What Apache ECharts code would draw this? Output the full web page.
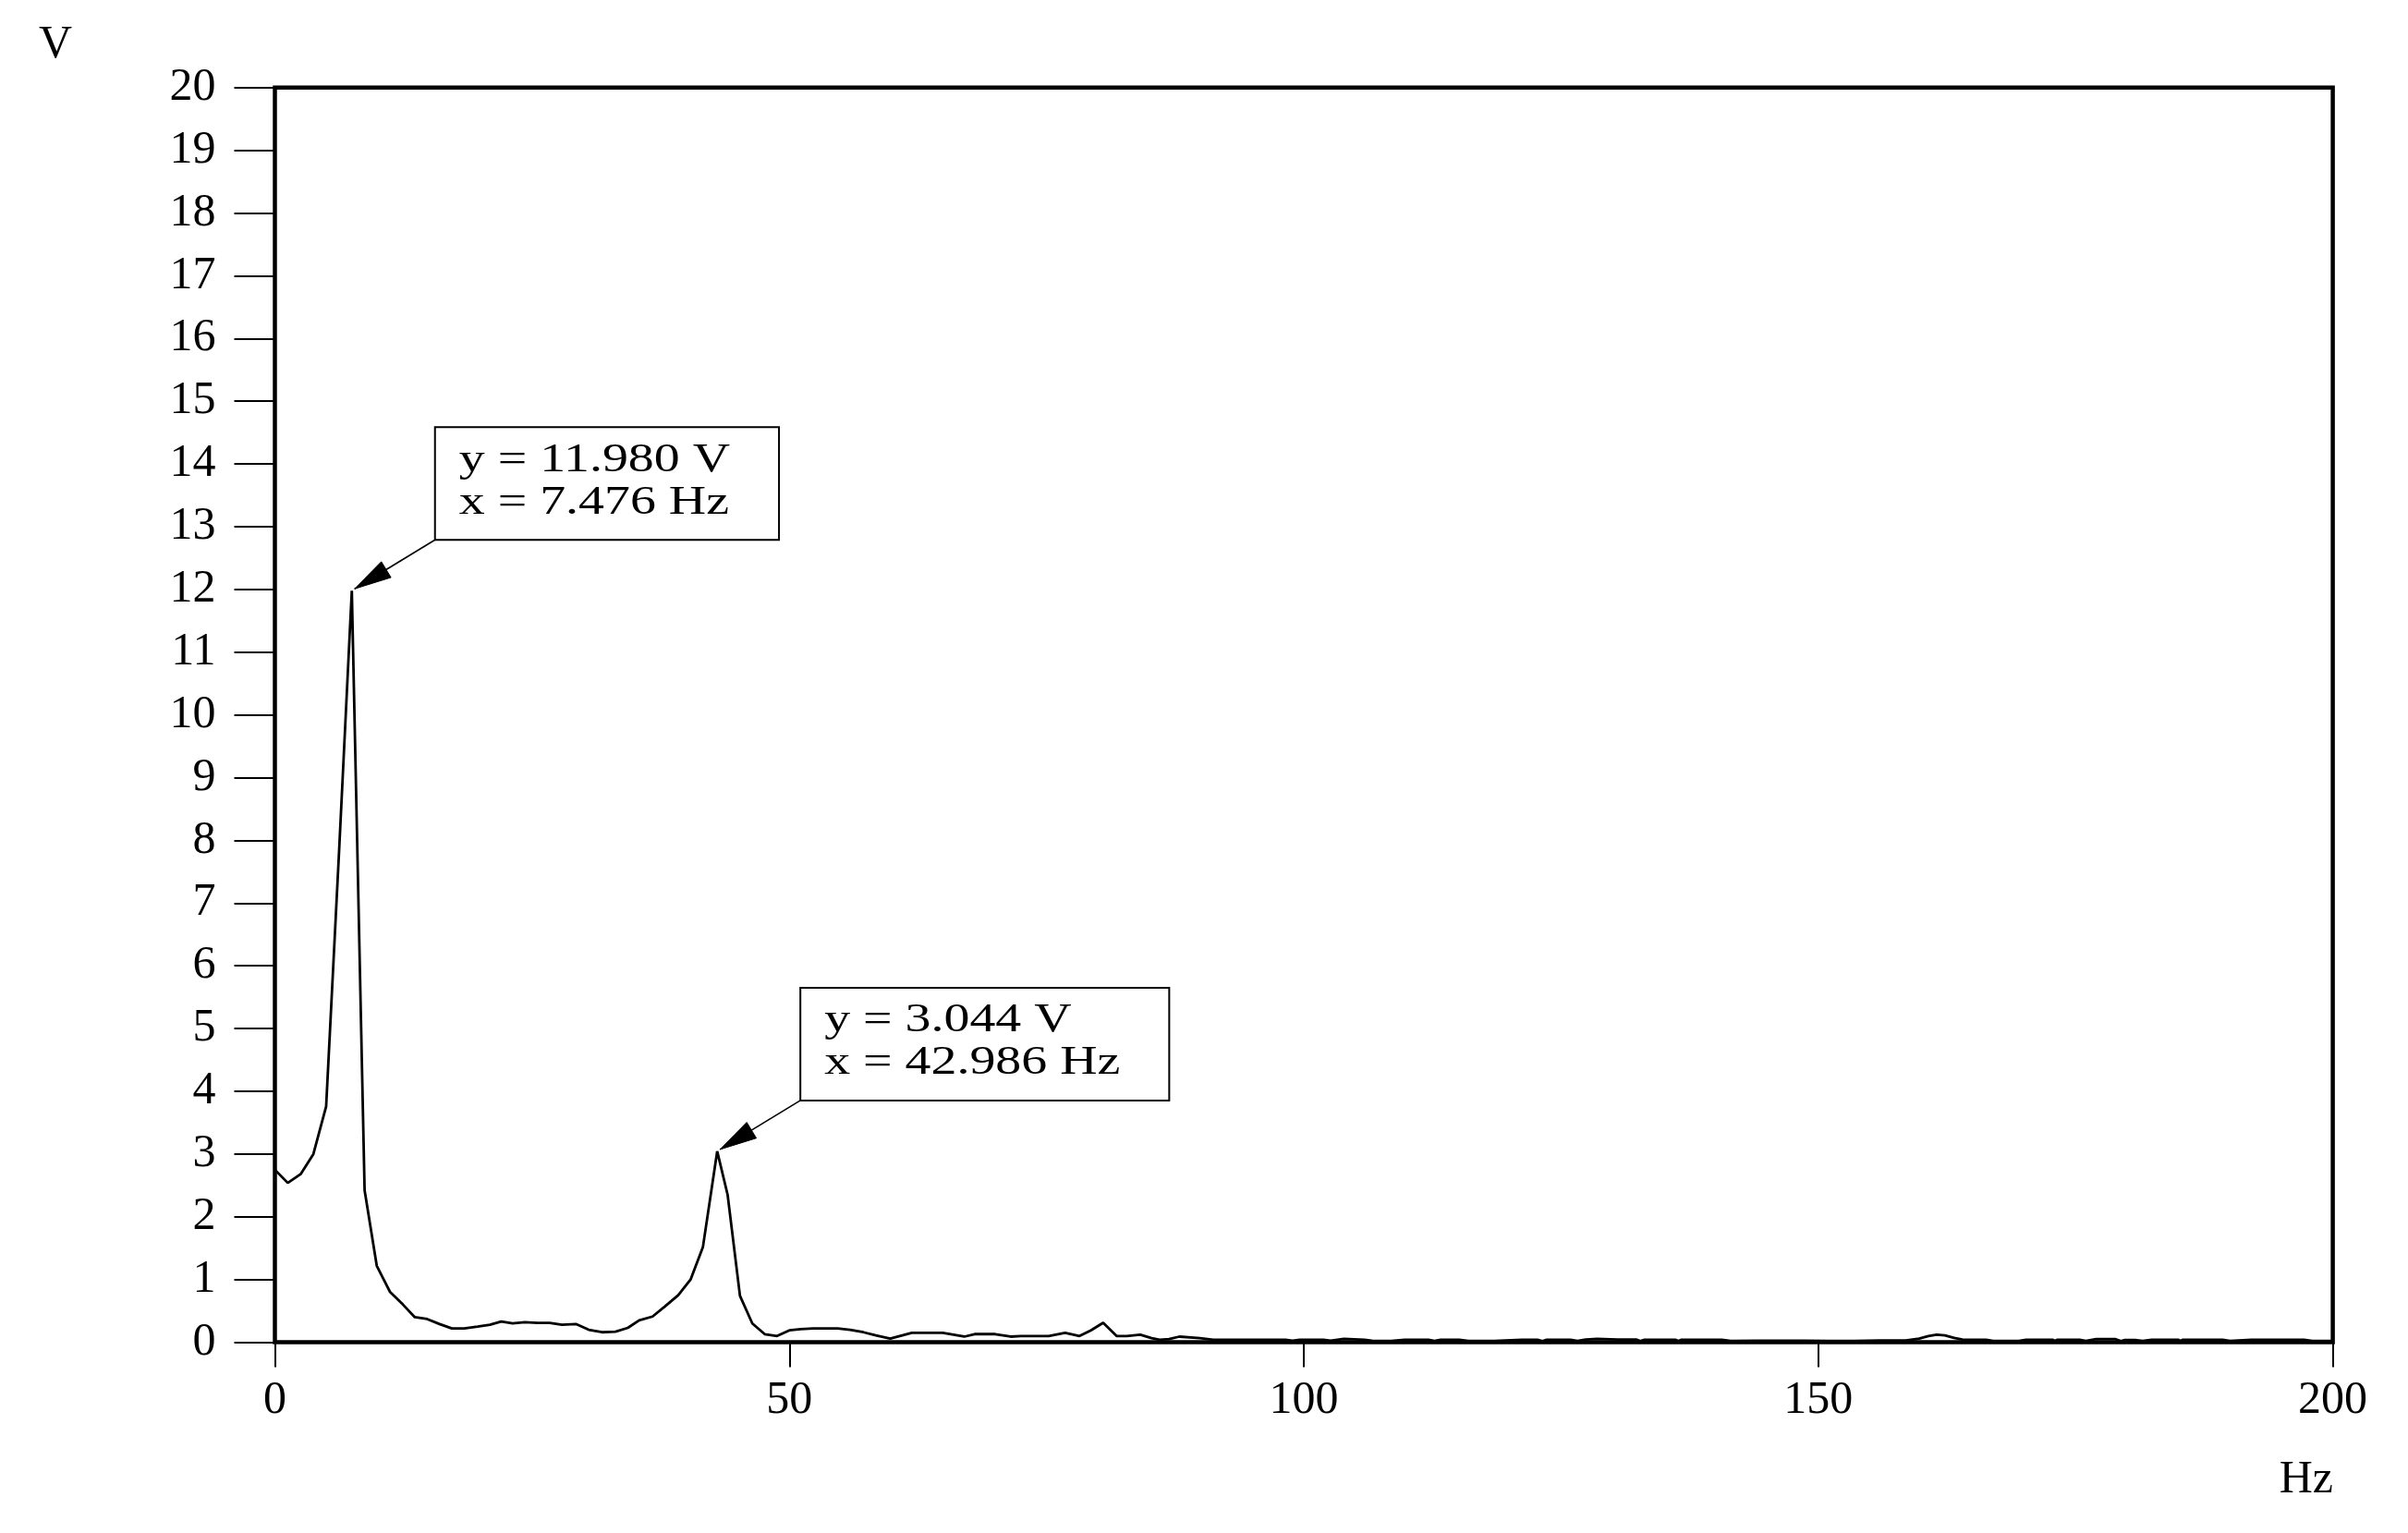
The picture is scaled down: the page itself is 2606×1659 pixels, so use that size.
<!DOCTYPE html>
<html>
<head>
<meta charset="utf-8">
<script src="https://cdn.jsdelivr.net/npm/echarts@6/dist/echarts.min.js"></script>
<style>
  html, body { margin: 0; padding: 0; background: #fff; }
  #main { width: 2606px; height: 1659px; }
</style>
</head>
<body>
<div id="main"></div>
<script>
// ---- data ----
const freqHz = [
  0, 1.25, 2.5, 3.74, 4.98, 6.23, 7.476, 8.72, 9.9, 11.2, 12.45, 13.6, 14.8, 16.0, 17.2, 18.4, 19.7, 20.9,
  22.0, 23.1, 24.3, 25.5, 26.7, 27.9, 29.3, 30.5, 31.8, 33.1, 34.3, 35.4, 36.7, 37.9, 39.2, 40.4, 41.6,
  42.986, 44.0, 45.2, 46.4, 47.6, 48.8, 50.0, 51.1, 52.3, 53.5, 54.7, 55.9, 57.2, 58.4, 59.8, 61.9, 63.3,
  64.9, 67.0, 68.0, 70.0, 71.5, 72.5, 73.8, 75.2, 76.8, 78.2, 79.3, 80.5, 81.8, 82.8, 84.1, 85.2, 86.0,
  86.9, 87.9, 89.9, 91.2, 93.7, 96.2, 98.2, 98.9, 99.6, 101.9, 102.6, 103.9, 105.9, 106.6, 108.5, 109.8,
  112.1, 112.7, 113.3, 115.1, 116.0, 118.5, 121.2, 122.7, 123.2, 123.6, 125.9, 126.6, 127.4, 128.5, 130.5,
  132.3, 132.7, 133.1, 136.1, 136.4, 136.7, 140.6, 141.5, 144.0, 148.7, 151.0, 153.5, 156.0, 158.5, 159.8,
  160.7, 161.5, 162.3, 163.2, 164.0, 166.3, 167.0, 169.5, 170.2, 172.8, 173.0, 173.2, 175.4, 176.0, 177.0,
  178.9, 179.4, 179.8, 180.8, 181.5, 182.4, 185.0, 185.2, 185.4, 189.3, 190.0, 192.1, 197.2, 198.0, 200.0
];
const voltV = [
  2.75, 2.54, 2.68, 3.0, 3.76, 7.8, 11.98, 2.42, 1.22, 0.80, 0.60, 0.40, 0.37, 0.29, 0.22, 0.22, 0.25, 0.28,
  0.33, 0.30, 0.32, 0.31, 0.31, 0.28, 0.29, 0.20, 0.16, 0.17, 0.23, 0.35, 0.41, 0.57, 0.75, 1.0, 1.52,
  3.044, 2.35, 0.74, 0.30, 0.13, 0.10, 0.19, 0.21, 0.22, 0.22, 0.22, 0.20, 0.16, 0.11, 0.06, 0.15, 0.15,
  0.15, 0.09, 0.13, 0.13, 0.09, 0.10, 0.10, 0.10, 0.15, 0.10, 0.19, 0.31, 0.10, 0.10, 0.12, 0.065, 0.04,
  0.05, 0.09, 0.065, 0.04, 0.04, 0.04, 0.04, 0.025, 0.04, 0.04, 0.025, 0.055, 0.04, 0.025, 0.02, 0.04,
  0.04, 0.02, 0.04, 0.04, 0.02, 0.02, 0.04, 0.04, 0.02, 0.04, 0.04, 0.02, 0.045, 0.055, 0.045,
  0.045, 0.02, 0.04, 0.04, 0.02, 0.04, 0.04, 0.02, 0.025, 0.025, 0.02, 0.02, 0.03, 0.03, 0.06,
  0.10, 0.12, 0.11, 0.07, 0.045, 0.04, 0.02, 0.02, 0.04, 0.04, 0.02, 0.04, 0.04, 0.02, 0.05,
  0.05, 0.02, 0.035, 0.035, 0.02, 0.04, 0.04, 0.02, 0.04, 0.04, 0.02, 0.04, 0.04, 0.02, 0.02
];
const peakFreqHz = [7.476, 42.986];
const peakVoltV = [11.980, 3.044];
const xAxisName = 'Hz';
const yAxisName = 'V';

// ---- styling ----
const FONT = '"Liberation Serif", "Times New Roman", serif';
const FS = 50;
const ANN_FS = 44;
const ANN_SX = 1.27;

const chart = echarts.init(document.getElementById('main'), null, { renderer: 'canvas' });

const option = {
  animation: false,
  backgroundColor: '#ffffff',
  title: {
    text: xAxisName, right: 81, top: 1577, padding: 0,
    textStyle: { fontFamily: FONT, fontSize: FS, lineHeight: FS, fontWeight: 'normal', color: '#000' }
  },
  grid: {
    left: 297.5, right: 81.4, top: 94.7, bottom: 206.4,
    show: true, borderColor: '#000', borderWidth: 4.5, backgroundColor: 'transparent',
    containLabel: false
  },
  xAxis: {
    type: 'value', min: 0, max: 200, interval: 50,
    axisLine: { show: false },
    axisTick: { show: true, length: 27, lineStyle: { color: '#000', width: 2 } },
    axisLabel: { margin: 38, fontFamily: FONT, fontSize: FS, lineHeight: FS, color: '#000' },
    splitLine: { show: false }
  },
  yAxis: {
    type: 'value', min: 0, max: 20, interval: 1,
    name: yAxisName, nameLocation: 'end', nameGap: 46, nameMoveOverlap: false,
    nameTextStyle: {
      fontFamily: FONT, fontSize: FS, lineHeight: FS, color: '#000',
      align: 'center', verticalAlign: 'middle', padding: [0, 475, 0, 0]
    },
    axisLine: { show: false },
    axisTick: { show: true, length: 44, lineStyle: { color: '#000', width: 2 } },
    axisLabel: { margin: 64, fontFamily: FONT, fontSize: FS, lineHeight: FS, color: '#000', padding: [10, 0, 0, 0] },
    splitLine: { show: false }
  },
  series: [{
    type: 'line',
    data: freqHz.map((f, i) => [f, voltV[i]]),
    showSymbol: false, symbol: 'none', silent: true,
    lineStyle: { color: '#000', width: 2.8 },
    z: 3
  }]
};
chart.setOption(option);

// ---- peak annotations placed through the chart's own scales ----
function addAnnotations() {
  const ctx = document.createElement('canvas').getContext('2d');
  ctx.font = ANN_FS + 'px ' + FONT;
  const g = [];
  peakFreqHz.forEach((f, i) => {
    const v = peakVoltV[i];
    const p = chart.convertToPixel({ xAxisIndex: 0, yAxisIndex: 0 }, [f, v]);
    const l1 = 'y = ' + v.toFixed(3) + ' V';
    const l2 = 'x = ' + f.toFixed(3) + ' Hz';
    const tw = Math.max(ctx.measureText(l1).width, ctx.measureText(l2).width) * ANN_SX;
    const boxH = 122;
    const left = p[0] + 90;
    const bottom = p[1] - 55;
    const top = bottom - boxH;
    const w = tw + 26 + 53;
    g.push({ type: 'rect', z: 20, shape: { x: left, y: top, width: w, height: boxH },
      style: { fill: '#fff', stroke: '#000', lineWidth: 2 } });
    [l1, l2].forEach((t, k) => {
      g.push({ type: 'text', z: 21, x: left + 26, y: top + 36 + k * 46, scaleX: ANN_SX,
        style: { text: t, x: 0, y: 0, fontFamily: FONT, fontSize: ANN_FS, fill: '#000',
          align: 'left', verticalAlign: 'middle', textAlign: 'left', textVerticalAlign: 'middle' } });
    });
    const tipX = p[0] + 3, tipY = p[1] - 2;
    g.push({ type: 'line', z: 20, shape: { x1: left, y1: bottom, x2: tipX, y2: tipY },
      style: { stroke: '#000', lineWidth: 1.6 } });
    const dx = left - tipX, dy = bottom - tipY, len = Math.hypot(dx, dy);
    const ux = dx / len, uy = dy / len, nx = -uy, ny = ux;
    const bx = tipX + ux * 40, by = tipY + uy * 40;
    g.push({ type: 'polygon', z: 21, shape: { points: [[tipX, tipY], [bx + nx * 10, by + ny * 10], [bx - nx * 10, by - ny * 10]] },
      style: { fill: '#000', stroke: '#000', lineWidth: 1 } });
  });
  chart.setOption({ graphic: g });
}
addAnnotations();
</script>
</body>
</html>
